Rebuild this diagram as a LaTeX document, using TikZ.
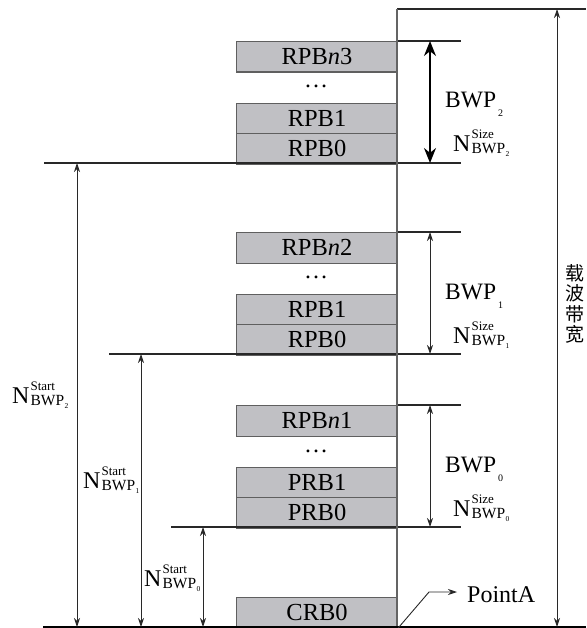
\documentclass[tikz,border=0pt]{standalone}
\usepackage{fontspec}
\setmainfont{Liberation Serif}
\newfontfamily\cjk{Noto Sans CJK SC}
\usetikzlibrary{arrows.meta}
\definecolor{boxfill}{RGB}{192,192,196}
\definecolor{boxline}{RGB}{95,95,95}
\definecolor{ln}{RGB}{40,40,40}
\definecolor{vln}{RGB}{100,100,100}
\newcommand{\Nlab}[2]{\fontsize{24}{24}\selectfont N\kern1pt\rlap{\raisebox{13pt}{\fontsize{13}{13}\selectfont #1}}\raisebox{-2pt}{\fontsize{15.5}{15.5}\selectfont BWP\kern0.5pt\raisebox{-3pt}{\fontsize{7.5}{7.5}\selectfont #2}}}
\newcommand{\BWPlab}[1]{\fontsize{23.5}{23.5}\selectfont BWP\kern2pt\raisebox{-9pt}{\fontsize{10}{10}\selectfont #1}}
\begin{document}
\begin{tikzpicture}[x=1pt,y=-1pt,
  rb/.style={draw=boxline, fill=boxfill, line width=1.1pt, minimum width=161pt, minimum height=30.5pt, inner sep=0pt, anchor=north west, font=\fontsize{24.5}{24.5}\selectfont},
  dots/.style={inner sep=0pt, anchor=base, text height=4pt, text depth=0pt, font=\fontsize{24}{24}\selectfont},
  hl/.style={draw=ln, line width=1.2pt},
  thinarr/.style={draw=ln, line width=0.9pt, {Stealth[length=9pt,width=6pt]}-{Stealth[length=9pt,width=6pt]}},
  thickarr/.style={draw=black, line width=1.8pt, {Stealth[length=15pt,width=12pt]}-{Stealth[length=15pt,width=12pt]}},
  lab/.style={inner sep=0pt, anchor=base west}]
\useasboundingbox (0,0) rectangle (586,628);

% ---- boxes ----
\node[rb] (b2n) at (236,41) {RPB\textit{n}3};
\node[dots] (d2) at (316,88) {…};
\node[rb] (b21) at (236,103) {RPB1};
\node[rb] (b20) at (236,133) {RPB0};

\node[rb] (b1n) at (236,232) {RPB\textit{n}2};
\node[dots] (d1) at (316,278) {…};
\node[rb] (b11) at (236,293.5) {RPB1};
\node[rb] (b10) at (236,324) {RPB0};

\node[rb] (b0n) at (236,405) {RPB\textit{n}1};
\node[dots] (d0) at (316,452) {…};
\node[rb] (b01) at (236,466.5) {PRB1};
\node[rb] (b00) at (236,497) {PRB0};

\node[rb] (crb) at (236,596.5) {CRB0};

% ---- coordinates ----
\coordinate (vt) at (397,9);
\coordinate (vb) at (397,627);
\coordinate (rt) at (586,9);
\coordinate (bl) at (43,627);
\coordinate (br) at (586,627);

\coordinate (t2a) at (397,41);  \coordinate (t2b) at (461,41);
\coordinate (u2a) at (44,163);  \coordinate (u2b) at (461,163);
\coordinate (t1a) at (397,232); \coordinate (t1b) at (461,232);
\coordinate (u1a) at (109,354); \coordinate (u1b) at (461,354);
\coordinate (t0a) at (397,405); \coordinate (t0b) at (461,405);
\coordinate (u0a) at (171,527); \coordinate (u0b) at (461,527);

% ---- lines ----
\draw[hl] (vt) -- (rt);
\draw[hl] (t2a) -- (t2b);
\draw[hl] (u2a) -- (u2b);
\draw[hl] (t1a) -- (t1b);
\draw[hl] (u1a) -- (u1b);
\draw[hl] (t0a) -- (t0b);
\draw[hl] (u0a) -- (u0b);
\draw[draw=vln, line width=1.2pt] (vt) -- (vb);
\draw[draw=black, line width=1.8pt] (bl) -- (br);

% ---- right dimension arrows ----
\coordinate (a2t) at (430,41);  \coordinate (a2b) at (430,163);
\coordinate (a1t) at (430,232); \coordinate (a1b) at (430,354);
\coordinate (a0t) at (430,405); \coordinate (a0b) at (430,527);
\draw[thickarr] (a2t) -- (a2b);
\draw[thinarr] (a1t) -- (a1b);
\draw[thinarr] (a0t) -- (a0b);

\coordinate (ct) at (557,9); \coordinate (cb) at (557,627);
\draw[thinarr] (ct) -- (cb);

% ---- left dimension arrows ----
\coordinate (s2t) at (77,163);  \coordinate (s2b) at (77,627);
\coordinate (s1t) at (141,354); \coordinate (s1b) at (141,627);
\coordinate (s0t) at (203,527); \coordinate (s0b) at (203,627);
\draw[thinarr] (s2t) -- (s2b);
\draw[thinarr] (s1t) -- (s1b);
\draw[thinarr] (s0t) -- (s0b);

% ---- labels ----
\node[lab] (l2) at (445,108) {\BWPlab{2}};
\node[lab] (n2) at (453,152) {\Nlab{Size}{2}};
\node[lab] (l1) at (445,299) {\BWPlab{1}};
\node[lab] (n1) at (453,343) {\Nlab{Size}{1}};
\node[lab] (l0) at (445,472) {\BWPlab{0}};
\node[lab] (n0) at (453,516) {\Nlab{Size}{0}};

\node[lab] (s2) at (12,403) {\Nlab{Start}{2}};
\node[lab] (s1) at (83,488) {\Nlab{Start}{1}};
\node[lab] (s0) at (144,586) {\Nlab{Start}{0}};

\node[inner sep=0pt, align=center, font=\cjk\fontsize{19}{20.5}\selectfont] (cw) at (575,304) {载\\波\\带\\宽};

% ---- PointA ----
\node[lab, font=\fontsize{24}{24}\selectfont] (pa) at (467,602) {PointA};
\coordinate (pk) at (429,592);
\coordinate (pe) at (457,592);
\draw[draw=ln, line width=0.9pt, -{Stealth[length=9pt,width=6pt]}] (crb.south east) -- (pk) -- (pe);
\end{tikzpicture}
\end{document}
